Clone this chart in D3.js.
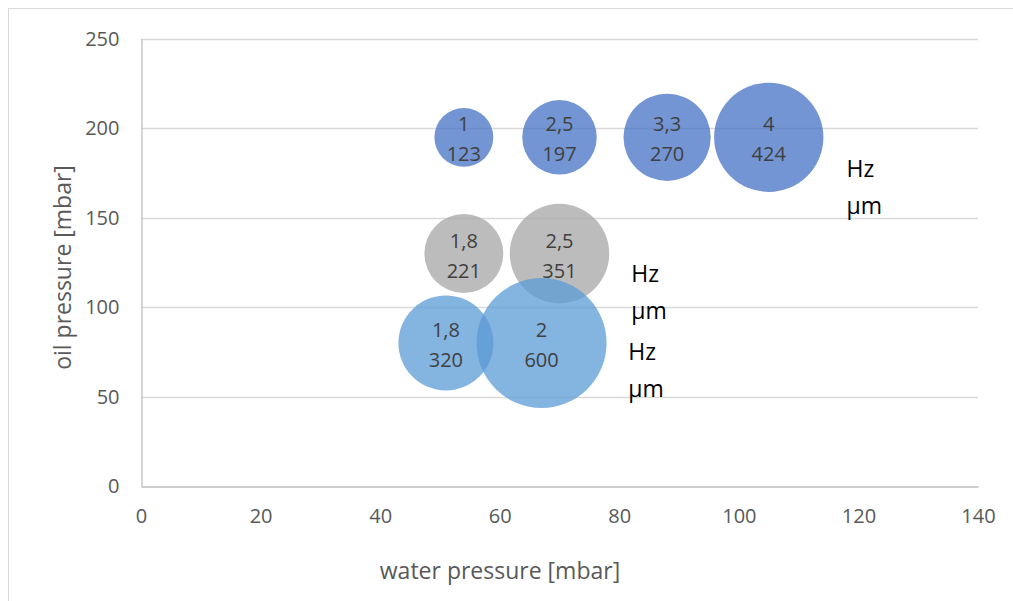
<!DOCTYPE html>
<html>
<head>
<meta charset="utf-8">
<script src="https://cdn.jsdelivr.net/npm/d3@7"></script>
<style>
  body { margin: 0; background: #fff; }
  svg { display: block; font-family: "Open Sans", sans-serif; }
</style>
</head>
<body>
<div id="chart"></div>
<script>
// Bubble data: one row per series
const waterPressure = [[54, 70, 88, 105], [54, 70], [51, 67]];
const oilPressure = [[195, 195, 195, 195], [130, 130], [80, 80]];
const frequencyHz = [[1, 2.5, 3.3, 4], [1.8, 2.5], [1.8, 2]];
const amplitudeUm = [[123, 197, 270, 424], [221, 351], [320, 600]];
const seriesColors = ["#4472C4", "#A5A5A5", "#5B9BD5"];

// Unit captions next to each series (data coordinates)
const unitLabelX = [118, 82, 81.5];
const unitLabelY = [173, 114, 70.5];
const unitLines = ["Hz", "\u00b5m"];

const xTicks = [0, 20, 40, 60, 80, 100, 120, 140];
const yTicks = [0, 50, 100, 150, 200, 250];

const width = 1013;
const height = 601;
const margin = { top: 39, right: 35, bottom: 115, left: 141 };

const svg = d3
  .select("#chart")
  .append("svg")
  .attr("width", width)
  .attr("height", height);

// Chart frame
svg
  .append("rect")
  .attr("x", 8.5)
  .attr("y", 8.5)
  .attr("width", width)
  .attr("height", height)
  .attr("fill", "#fff")
  .attr("stroke", "#d9d9d9");

const x = d3.scaleLinear().domain([0, 140]).range([margin.left, width - margin.right]);
const y = d3.scaleLinear().domain([0, 250]).range([height - margin.bottom, margin.top]);
const r = d3.scaleSqrt().domain([0, 600]).range([0, 65]);

// Gridlines
svg
  .append("g")
  .selectAll("line")
  .data(yTicks.slice(1))
  .enter()
  .append("line")
  .attr("x1", x(0))
  .attr("x2", x(140))
  .attr("y1", (d) => Math.round(y(d)) + 0.5)
  .attr("y2", (d) => Math.round(y(d)) + 0.5)
  .attr("stroke", "#d9d9d9")
  .attr("stroke-width", 1.3);

// Axes
const xAxis = svg
  .append("g")
  .attr("transform", `translate(0, ${Math.round(y(0)) + 0.5})`)
  .call(d3.axisBottom(x).tickValues(xTicks).tickSize(0).tickPadding(22));

const yAxis = svg
  .append("g")
  .attr("transform", `translate(${Math.round(x(0)) + 0.5}, 0)`)
  .call(d3.axisLeft(y).tickValues(yTicks).tickSize(0).tickPadding(22));

[xAxis, yAxis].forEach((ax) => {
  ax.select(".domain").attr("stroke", "#bfbfbf").attr("stroke-width", 1.3);
  ax.selectAll("text")
    .attr("fill", "#595959")
    .style("font-size", "20px")
    .style("font-family", "Open Sans, sans-serif");
});

// Axis titles
svg
  .append("text")
  .attr("x", 500)
  .attr("y", 579)
  .attr("text-anchor", "middle")
  .attr("fill", "#595959")
  .style("font-size", "23px")
  .text("water pressure [mbar]");

svg
  .append("text")
  .attr("transform", `translate(71, ${(y(0) + y(250)) / 2 + 5}) rotate(-90)`)
  .attr("text-anchor", "middle")
  .attr("fill", "#595959")
  .style("font-size", "23px")
  .text("oil pressure [mbar]");

// Flatten the series into points
const points = [];
waterPressure.forEach((row, s) => {
  row.forEach((wx, i) => {
    points.push({
      series: s,
      wx: wx,
      oy: oilPressure[s][i],
      hz: frequencyHz[s][i],
      um: amplitudeUm[s][i],
    });
  });
});

const fmt = (v) => String(v).replace(".", ",");

// Bubbles
svg
  .append("g")
  .selectAll("circle")
  .data(points)
  .enter()
  .append("circle")
  .attr("cx", (d) => x(d.wx))
  .attr("cy", (d) => y(d.oy))
  .attr("r", (d) => r(d.um))
  .attr("fill", (d) => seriesColors[d.series])
  .attr("fill-opacity", 0.75);

// Bubble labels
const labels = svg.append("g").selectAll("g").data(points).enter().append("g");

labels
  .append("text")
  .attr("x", (d) => x(d.wx))
  .attr("y", (d) => y(d.oy) - 6)
  .attr("text-anchor", "middle")
  .attr("fill", "#404040")
  .style("font-size", "20px")
  .text((d) => fmt(d.hz));

labels
  .append("text")
  .attr("x", (d) => x(d.wx))
  .attr("y", (d) => y(d.oy) + 24)
  .attr("text-anchor", "middle")
  .attr("fill", "#404040")
  .style("font-size", "20px")
  .text((d) => d.um);

// Unit captions
unitLabelX.forEach((ux, s) => {
  unitLines.forEach((t, k) => {
    svg
      .append("text")
      .attr("x", x(ux))
      .attr("y", y(unitLabelY[s]) + k * 37)
      .attr("fill", "#000")
      .style("font-size", "23px")
      .text(t);
  });
});
</script>
</body>
</html>
